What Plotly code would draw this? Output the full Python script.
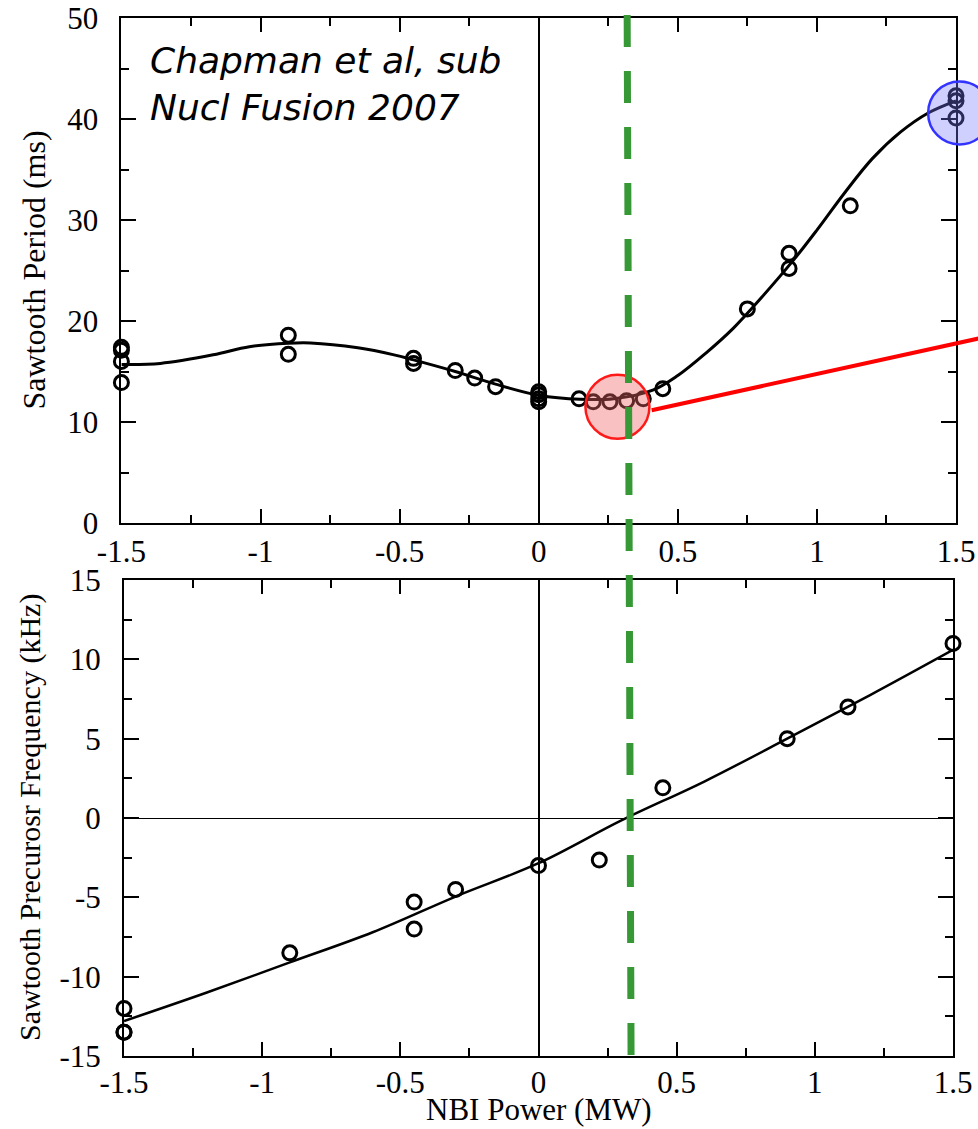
import plotly.graph_objects as go

# ---------------- data ----------------
# Top panel: sawtooth period (ms) vs NBI power (MW)
period_x = [-1.5, -1.5, -1.5, -1.5, -0.9, -0.9, -0.45, -0.45, -0.3, -0.23, -0.155,
            0.0, 0.0, 0.0, 0.0, 0.145, 0.196, 0.256, 0.316, 0.376, 0.446,
            0.75, 0.9, 0.9, 1.12, 1.5, 1.5, 1.5]
period_y = [17.4, 17.1, 16.0, 13.9, 18.6, 16.7, 16.3, 15.8, 15.1, 14.35, 13.5,
            13.0, 12.7, 12.3, 12.0, 12.3, 12.0, 12.0, 12.1, 12.3, 13.3,
            21.2, 26.7, 25.2, 31.4, 42.3, 41.8, 40.1]

# smooth fit curve through the period data
period_fit_x = [-1.5, -1.36, -1.17, -1.04, -0.9, -0.82, -0.65, -0.52, -0.45, -0.3,
                -0.155, 0.0, 0.15, 0.27, 0.41, 0.5, 0.6, 0.7, 0.8, 0.915, 1.0,
                1.1, 1.2, 1.3, 1.4, 1.5]
period_fit_y = [15.7, 15.8, 16.65, 17.45, 17.8, 17.83, 17.35, 16.65, 16.15, 15.0,
                13.75, 12.65, 12.25, 12.3, 13.15, 14.6, 16.8, 19.3, 22.3, 26.0, 29.0,
                32.7, 36.1, 38.7, 40.6, 41.8]

# highlighted regions
red_circle_x = [0.283]
red_circle_y = [11.5]
blue_circle_x = [1.513]
blue_circle_y = [40.6]
red_line_x = [0.406, 1.62]
red_line_y = [11.16, 18.5]

# Bottom panel: sawtooth precursor frequency (kHz)
freq_x = [-1.5, -1.5, -1.5, -0.9, -0.45, -0.45, -0.3, 0.0, 0.22, 0.45, 0.9, 1.12, 1.5]
freq_y = [-12.0, -13.5, -13.5, -8.5, -5.3, -7.0, -4.5, -3.0, -2.65, 1.9, 5.0, 7.0, 11.0]

freq_fit_x = [-1.5, -1.2, -0.9, -0.6, -0.3, 0.0, 0.3, 0.6, 0.9, 1.2, 1.5]
freq_fit_y = [-12.8, -11.0, -9.1, -7.2, -4.95, -2.85, -0.15, 2.3, 5.0, 7.75, 10.6]

# vertical green dashed marker (zero crossing of frequency), top and bottom x
green_x = [0.318, 0.332]

# ticks
x_tickvals = [-1.5, -1.0, -0.5, 0.0, 0.5, 1.0, 1.5]
x_ticktext = ["-1.5", "-1", "-0.5", "0", "0.5", "1", "1.5"]
top_y_tickvals = [0, 10, 20, 30, 40, 50]
top_y_ticktext = ["0", "10", "20", "30", "40", "50"]
bot_y_tickvals = [-15, -10, -5, 0, 5, 10, 15]
bot_y_ticktext = ["-15", "-10", "-5", "0", "5", "10", "15"]

x_range = [-1.5, 1.5]
top_y_range = [0, 50]
bot_y_range = [-15, 15]

# ---------------- layout geometry ----------------
W, H = 978, 1129
SERIF = "Liberation Serif"
top_xdom = [121.4 / W, 956.0 / W]
top_ydom = [1 - 523.0 / H, 1 - 18.0 / H]
bot_xdom = [124.0 / W, 953.0 / W]
bot_ydom = [1 - 1056.0 / H, 1 - 580.0 / H]
# hidden helper axis with the same scale as the top x axis, extended to the page edge
ext_xdom = [top_xdom[0], 1.0]
ext_xmax = x_range[0] + (x_range[1] - x_range[0]) * (ext_xdom[1] - ext_xdom[0]) / (top_xdom[1] - top_xdom[0])

fig = go.Figure()

# top panel
fig.add_trace(go.Scatter(x=period_fit_x, y=period_fit_y, mode="lines",
                         line=dict(color="black", width=3, shape="spline", smoothing=1.0),
                         xaxis="x", yaxis="y", hoverinfo="skip"))
fig.add_trace(go.Scatter(x=period_x, y=period_y, mode="markers",
                         marker=dict(symbol="circle-open", size=14, color="black",
                                     line=dict(width=3, color="black")),
                         cliponaxis=False, xaxis="x", yaxis="y"))
fig.add_trace(go.Scatter(x=red_circle_x, y=red_circle_y, mode="markers",
                         marker=dict(symbol="circle", size=64, color="rgba(240,100,100,0.40)",
                                     line=dict(width=2.5, color="#ff1a1a")),
                         cliponaxis=False, xaxis="x", yaxis="y"))
fig.add_trace(go.Scatter(x=red_line_x, y=red_line_y, mode="lines",
                         line=dict(color="#ff0000", width=4),
                         xaxis="x3", yaxis="y3", hoverinfo="skip"))
fig.add_trace(go.Scatter(x=blue_circle_x, y=blue_circle_y, mode="markers",
                         marker=dict(symbol="circle", size=63, color="rgba(120,120,255,0.35)",
                                     line=dict(width=2.5, color="#3333ff")),
                         cliponaxis=False, xaxis="x3", yaxis="y3"))

# bottom panel
fig.add_trace(go.Scatter(x=freq_fit_x, y=freq_fit_y, mode="lines",
                         line=dict(color="black", width=2.5, shape="spline", smoothing=1.0),
                         xaxis="x2", yaxis="y2", hoverinfo="skip"))
fig.add_trace(go.Scatter(x=freq_x, y=freq_y, mode="markers",
                         marker=dict(symbol="circle-open", size=14, color="black",
                                     line=dict(width=3, color="black")),
                         cliponaxis=False, xaxis="x2", yaxis="y2"))

tickfont = dict(family=SERIF, size=31, color="black")


def axis_common(major_len, minor_dtick):
    return dict(showline=True, linecolor="black", linewidth=2, mirror="ticks",
                ticks="inside", ticklen=major_len, tickwidth=1.5, tickcolor="black",
                showgrid=False, zeroline=True, zerolinecolor="black", zerolinewidth=1.5,
                tickfont=tickfont, tickmode="array", automargin=False,
                minor=dict(ticks="inside", ticklen=8, tickwidth=1.5, tickcolor="black",
                           tickmode="linear", tick0=0, dtick=minor_dtick, showgrid=False),
                fixedrange=True)


xa = axis_common(14, 0.25)
fig.update_layout(
    width=W, height=H,
    margin=dict(l=0, r=0, t=0, b=0, autoexpand=False),
    paper_bgcolor="white", plot_bgcolor="rgba(0,0,0,0)",
    showlegend=False,
    xaxis=dict(**xa, domain=top_xdom, range=x_range, anchor="y",
               tickvals=x_tickvals, ticktext=x_ticktext, ticklabelstandoff=0),
    yaxis=dict(**axis_common(15, 5), domain=top_ydom, range=top_y_range, anchor="x",
               tickvals=top_y_tickvals, ticktext=top_y_ticktext, ticklabelstandoff=15),
    xaxis2=dict(**xa, domain=bot_xdom, range=x_range, anchor="y2",
                tickvals=x_tickvals, ticktext=x_ticktext, ticklabelstandoff=-2),
    yaxis2=dict(**axis_common(15, 2.5), domain=bot_ydom, range=bot_y_range, anchor="x2",
                tickvals=bot_y_tickvals, ticktext=bot_y_ticktext, ticklabelstandoff=15),
    xaxis3=dict(domain=ext_xdom, range=[x_range[0], ext_xmax], anchor="y3",
                visible=False, fixedrange=True, automargin=False),
    yaxis3=dict(domain=top_ydom, range=top_y_range, anchor="x3",
                visible=False, fixedrange=True, automargin=False),
)
fig.layout.yaxis2.zerolinewidth = 1.2

# green dashed vertical line spanning both panels
fig.add_shape(type="line", xref="x", yref="paper",
              x0=green_x[0], x1=green_x[1], y0=1 - 15.0 / H, y1=bot_ydom[0],
              line=dict(color="#369936", width=7, dash="32px,24px"), layer="above")

# text
fig.add_annotation(text="Chapman et al, sub<br>Nucl Fusion 2007", xref="paper", yref="paper",
                   x=148.0 / W, y=1 - 84.0 / H, xanchor="left", yanchor="middle",
                   align="left", showarrow=False,
                   font=dict(family="DejaVu Sans", size=36, color="black", style="italic"))
fig.add_annotation(text="Sawtooth Period (ms)", xref="paper", yref="paper",
                   x=34.0 / W, y=(top_ydom[0] + top_ydom[1]) / 2, textangle=-90,
                   xanchor="center", yanchor="middle", showarrow=False,
                   font=dict(family=SERIF, size=32, color="black"))
fig.add_annotation(text="Sawtooth Precurosr Frequency (kHz)", xref="paper", yref="paper",
                   x=30.0 / W, y=(bot_ydom[0] + bot_ydom[1]) / 2, textangle=-90,
                   xanchor="center", yanchor="middle", showarrow=False,
                   font=dict(family=SERIF, size=30, color="black"))
fig.add_annotation(text="NBI Power (MW)", xref="paper", yref="paper",
                   x=538.5 / W, y=1 - 1109.0 / H, xanchor="center", yanchor="middle",
                   showarrow=False, font=dict(family=SERIF, size=31, color="black"))

fig.write_html("out.html")
